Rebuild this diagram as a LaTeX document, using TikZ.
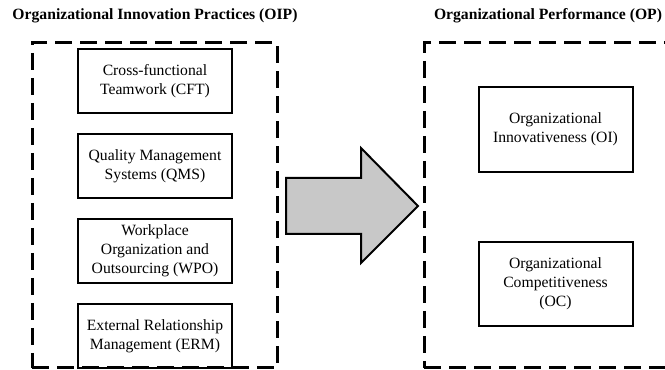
\documentclass[tikz,border=0pt]{standalone}
\usepackage{fontspec}
\setmainfont{Liberation Serif}
\usepackage{xcolor}
\usetikzlibrary{positioning}
\definecolor{arrowgray}{RGB}{200,200,200}

\begin{document}
\begin{tikzpicture}[x=0.75pt, y=-0.75pt, node distance=14.25pt,
  every node/.style={font=\fontsize{11.75}{14.25}\selectfont, align=center},
  item/.style={draw, line width=1.5pt, minimum width=115.5pt, minimum height=48pt, inner sep=2pt},
  frame/.style={draw, dash pattern=on 12.75pt off 6pt, line width=2.25pt, minimum height=243.75pt},
  title/.style={font=\fontsize{11.75}{14.25}\selectfont\bfseries}]
\useasboundingbox (0,0) rectangle (665,370);

% the two dashed groups with their headings
\node[frame, minimum width=183.75pt] (oipbox) at (154.5,205.5) {};
\node[frame, minimum width=199.5pt] (opbox) at (557,205.5) {};
\node[title] (oiptitle) at (155,16) {Organizational Innovation Practices (OIP)};
\node[title] (optitle) at (548,16) {Organizational Performance (OP)};

% practices
\node[item] (cft) at (155,81) {Cross-functional\\Teamwork (CFT)};
\node[item, below=of cft] (qms) {Quality Management\\Systems (QMS)};
\node[item, below=of qms] (wpo) {Workplace\\Organization and\\Outsourcing (WPO)};
\node[item, below=of wpo] (erm) {External Relationship\\Management (ERM)};

% performance
\node[item, minimum height=63.75pt] (oi) at (555.5,129.5) {Organizational\\Innovativeness (OI)};
\node[item, minimum height=63pt, below=51pt of oi] (oc) {Organizational\\Competitiveness\\(OC)};

% big block arrow between the groups
\draw[line width=1.5pt, fill=arrowgray, line join=miter]
  (286,178) -- (361,178) -- (361,148) -- (418,206) -- (361,263) -- (361,234) -- (286,234) -- cycle;
\end{tikzpicture}
\end{document}
